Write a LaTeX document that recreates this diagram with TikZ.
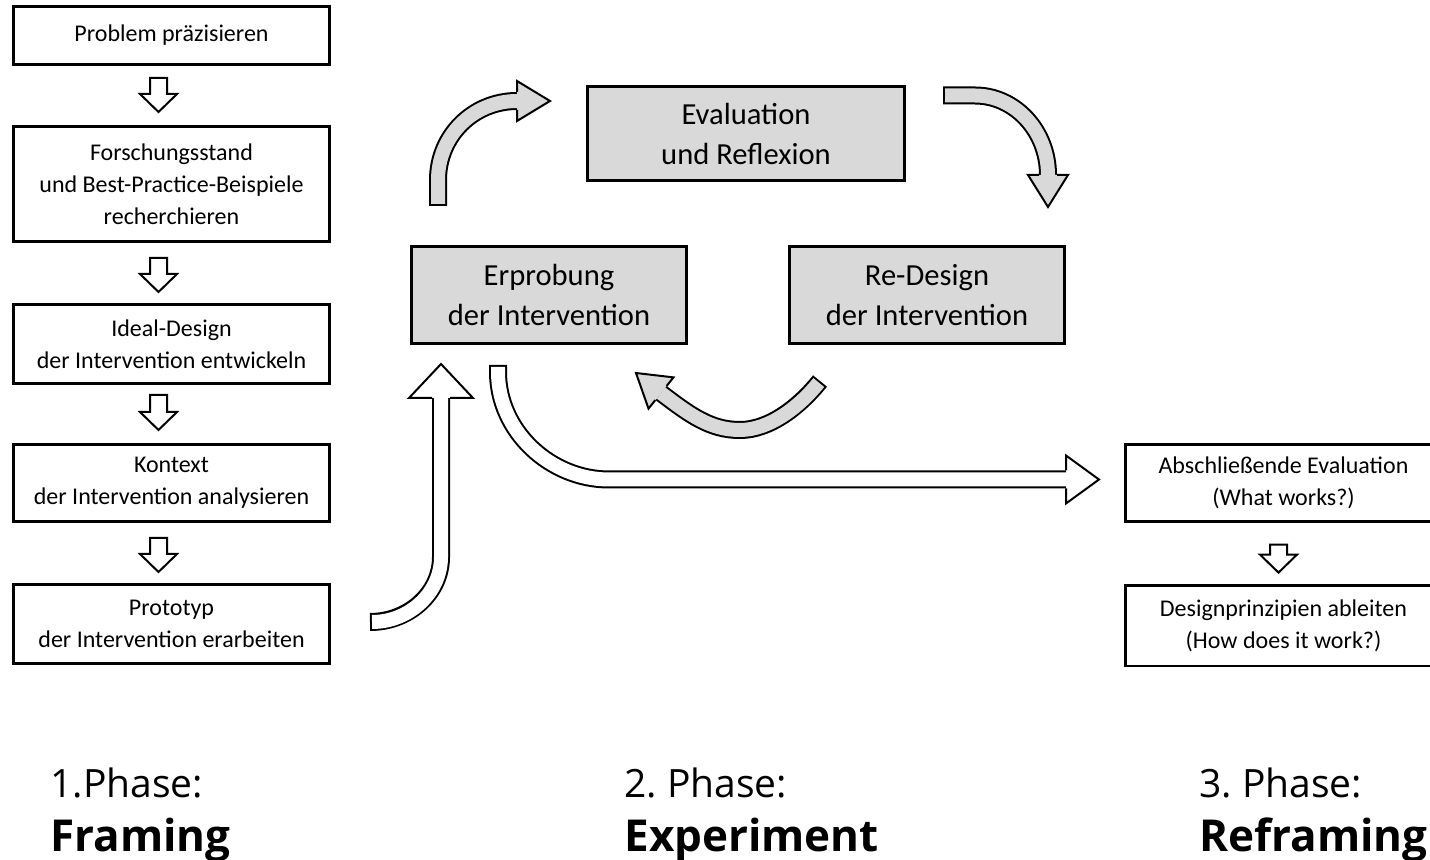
\documentclass[tikz,border=0pt]{standalone}
\usepackage{fontspec}
\setmainfont{Carlito}
\newfontfamily\uifont{Open Sans}
\usetikzlibrary{calc}
\frenchspacing

\definecolor{loopgrey}{RGB}{217,217,217}

\tikzset{
  stepbox/.style={draw, line width=1.4pt, minimum width=158.1pt, inner sep=0pt, align=center, font=\fontsize{12}{16}\selectfont},
  cutbox/.style={stepbox, draw=none, outer sep=0pt},
  loopbox/.style={draw, fill=loopgrey, line width=1.4pt, minimum width=#1, minimum height=48.6pt, inner sep=0pt, align=center, font=\fontsize{15.3}{20}\selectfont},
  downarrow/.style={draw, fill=white, line width=1pt, line join=miter},
  phase/.style={anchor=base west, inner sep=0pt, font=\uifont\fontsize{19.5}{23}\selectfont},
  phasename/.style={anchor=base west, inner sep=0pt, font=\uifont\bfseries\fontsize{22}{26}\selectfont},
}

% #1 fill, #2 path up to the base of the head, #3 base, #4 tip, #5 half width of the head
\newcommand{\bigarrow}[5]{%
  \draw[line width=9pt, line join=round] #2;
  \draw[line width=7pt, line join=round, draw=#1, shorten <=1pt] #2;
  \filldraw[fill=#1, line width=1pt, line join=miter]
    ($(#3)!4.5pt!90:(#4)$) -- ($(#3)!#5!90:(#4)$) -- (#4)
    -- ($(#3)!#5!-90:(#4)$) -- ($(#3)!4.5pt!-90:(#4)$);
}

\newcommand{\smallarrow}[2]{%
  \draw[downarrow, shift={#1}] (-8.5,0) -- (8.5,0) -- (8.5,#2) -- (18.5,#2)
    -- (0,#2+18) -- (-18.5,#2) -- (-8.5,#2) -- cycle;
}

\begin{document}
\begin{tikzpicture}[x=0.5pt, y=-0.5pt]
  \useasboundingbox (0,0) rectangle (1430,860);
  \clip (0,0) rectangle (1430,860);

  \node[stepbox, minimum height=29.1pt] (prob) at (171.5,35.5) {Problem präzisieren};
  \node[stepbox, minimum height=57.6pt] (forsch) at (171.5,184) {Forschungsstand\\und Best-Practice-Beispiele\\recherchieren};
  \node[stepbox, minimum height=39.6pt] (ideal) at (171.5,344) {Ideal-Design\\der Intervention entwickeln};
  \node[stepbox, minimum height=38.6pt] (kontext) at (171.5,483) {Kontext\\der Intervention analysieren};
  \node[stepbox, minimum height=39.6pt] (proto) at (171.5,624) {Prototyp\\der Intervention erarbeiten};

  \node[loopbox=158.6pt, minimum height=47.1pt] (eval) at (746,133.5) {Evaluation\\und Reflexion};
  \node[loopbox=137.6pt] (erp) at (549,295) {Erprobung\\der Intervention};
  \node[loopbox=137.6pt] (redes) at (927,295) {Re-Design\\der Intervention};

  \node[cutbox, minimum height=38.6pt] (absch) at (1283.5,483) {Abschließende Evaluation\\(What works?)};
  \node[cutbox, minimum height=40.1pt] (prinz) at (1283.5,626) {Designprinzipien ableiten\\(How does it work?)};
  \draw[line width=1.4pt] (absch.north west) rectangle ($(absch.south east)+(60,0)$);
  \draw[line width=1.4pt] (prinz.north west) rectangle ($(prinz.south east)+(60,0)$);

  \smallarrow{($(prob.south)+(-13,12)$)}{16}
  \smallarrow{($(forsch.south)+(-13,15)$)}{16}
  \smallarrow{($(ideal.south)+(-13,10)$)}{17}
  \smallarrow{($(kontext.south)+(-13,15)$)}{16}
  \smallarrow{($(absch.south)+(-5,23)$)}{10}

  \coordinate (up1) at (438,206);
  \coordinate (up2) at (438,180);
  \coordinate (up3) at (517,101);
  \coordinate (uptip) at (550,101);
  \bigarrow{loopgrey}{(up1) -- (up2) .. controls +(0,-44) and +(-44,0) .. (up3)}{up3}{uptip}{10pt}

  \coordinate (dn1) at (943,95.5);
  \coordinate (dn2) at (975,95.5);
  \coordinate (dn3) at (1048,175);
  \coordinate (dntip) at (1048,207);
  \bigarrow{loopgrey}{(dn1) -- (dn2) .. controls +(40,0) and +(0,-44) .. (dn3)}{dn3}{dntip}{10pt}

  \coordinate (bk1) at (820,381);
  \coordinate (bk2) at (740,430);
  \coordinate (bk3) at (661,393);
  \coordinate (bktip) at (636,373);
  \bigarrow{loopgrey}{(bk1) .. controls +(-20,25) and +(30,0) .. (bk2) .. controls +(-30,0) and +(29,22) .. (bk3)}{bk3}{bktip}{10pt}

  \coordinate (in1) at (370,622);
  \coordinate (in2) at (441,557);
  \coordinate (in3) at (441,398);
  \coordinate (intip) at (441,364);
  \bigarrow{white}{(in1) .. controls +(39,0) and +(0,36) .. (in2) -- (in3)}{in3}{intip}{16pt}

  \coordinate (out1) at (498,365);
  \coordinate (out2) at (498,372);
  \coordinate (out3) at (609,479.5);
  \coordinate (out4) at (1066,479.5);
  \coordinate (outtip) at (1099,479.5);
  \bigarrow{white}{(out1) -- (out2) .. controls +(0,59) and +(-59,0) .. (out3) -- (out4)}{out4}{outtip}{12pt}

  \node[phase] (ph1) at (50,797) {1.Phase:};
  \node[phasename] (nm1) at (50,851) {Framing};
  \node[phase] (ph2) at (624,797) {2. Phase:};
  \node[phasename] (nm2) at (624,851) {Experiment};
  \node[phase] (ph3) at (1199,797) {3. Phase:};
  \node[phasename] (nm3) at (1199,851) {Reframing};
\end{tikzpicture}
\end{document}
